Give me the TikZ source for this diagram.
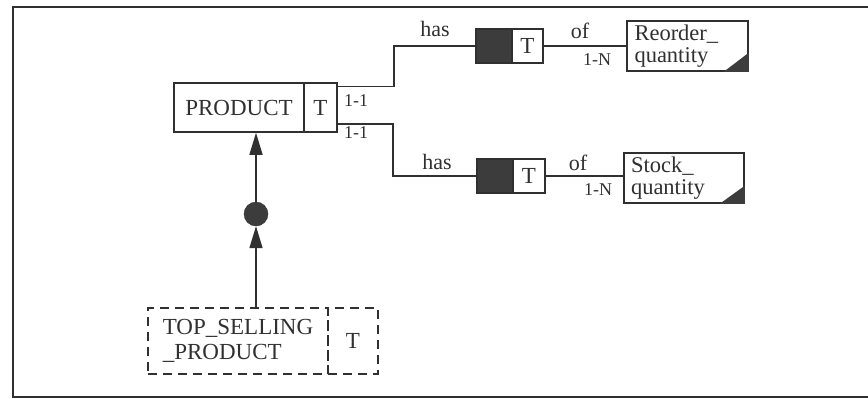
\documentclass[tikz,border=0pt]{standalone}
\usepackage{fontspec}
\setmainfont{Liberation Serif}
\usetikzlibrary{arrows.meta}

\definecolor{inkgray}{HTML}{303030}
\definecolor{fillgray}{HTML}{3C3C3C}

\tikzset{
  conn/.style={line width=1.5pt},
  ent/.style={draw=inkgray,line width=1.5pt,rectangle,inner sep=0pt,
    minimum height=49pt,font=\fontsize{23}{25}\selectfont},
  relbox/.style={draw=inkgray,line width=1.5pt,rectangle,inner sep=0pt,
    minimum height=34pt,font=\fontsize{23}{25}\selectfont},
  attr/.style={draw=inkgray,line width=1.5pt,rectangle,inner sep=0pt,
    minimum height=50pt,text width=106pt,align=left,
    font=\fontsize{22.5}{22}\selectfont},
  dashbox/.style={ent,dash pattern=on 9pt off 6pt,minimum height=66pt},
  lbl/.style={inner sep=0pt,font=\fontsize{22}{24}\selectfont},
  card/.style={inner sep=0pt,font=\fontsize{18}{20}\selectfont},
  isatip/.style={-{Triangle[length=22pt,width=13pt]}}
}

\begin{document}
\begin{tikzpicture}[x=1pt,y=-1pt,color=inkgray]
        \useasboundingbox (0,0) rectangle (868,399);
        % frame, open on the right
        \draw[line width=1.5pt] (868,7) -- (13,7) -- (13,397) -- (868,397);

        % entity PRODUCT
        \node[ent,minimum width=130pt] (prod) at (239,107.5) {PRODUCT};
        \node[ent,minimum width=33pt] (prodT) at (320.5,107.5) {T};

        % relationship boxes
        \node[relbox,fill=fillgray,minimum width=36pt] (relA) at (494,46) {};
        \node[relbox,minimum width=31pt] (relAT) at (527.5,46) {T};
        \node[relbox,fill=fillgray,minimum width=36pt] (relB) at (495,176) {};
        \node[relbox,minimum width=32pt] (relBT) at (529,176) {T};

        % attributes
        \node[attr,minimum width=121pt] (reorder) at (687.5,46) {Reorder\_\\quantity};
        \node[attr,minimum width=120pt] (stock) at (684,178) {Stock\_\\quantity};
        \fill[fillgray] ([xshift=-25pt]reorder.south east) -- (reorder.south east)
          -- ([yshift=19pt]reorder.south east) -- cycle;
        \fill[fillgray] ([xshift=-25pt]stock.south east) -- (stock.south east)
          -- ([yshift=18pt]stock.south east) -- cycle;

        % subtype TOP_SELLING_PRODUCT
        \node[dashbox,minimum width=180pt,align=left] (topsel) at (238,341) {TOP\_SELLING\\\_PRODUCT};
        \node[dashbox,minimum width=50pt] (topselT) at (353,341) {T};

        % isa point
        \node[circle,fill=fillgray,draw=inkgray,minimum size=24pt,inner sep=0pt] (isa) at (256,214) {};

        % connectors
        \draw[conn] ([yshift=-4pt]prodT.north east) -- ++(56,0) |- (relA.west);
        \draw[conn] ([yshift=9pt]prodT.south east) -- ++(55,0) |- (relB.west);
        \draw[conn] (relAT.east) -- (reorder.west |- relAT.east);
        \draw[conn] (relBT.east) -- (stock.west |- relBT.east);
        \draw[conn,isatip] (isa.north) -- (isa.north |- prod.south);
        \draw[conn,isatip] (isa.south |- topsel.north) -- (isa.south);

        % labels
        \node[lbl] (hasA) at (435,29) {has};
        \node[lbl] (hasB) at (437,162) {has};
        \node[lbl] (ofA) at (580,31) {of};
        \node[lbl] (ofB) at (578,163) {of};
        \node[card] (cardA) at (597,60) {1-N};
        \node[card] (cardB) at (598,190) {1-N};
        \node[card] (cardC) at (356,101) {1-1};
        \node[card] (cardD) at (356,133) {1-1};
      \end{tikzpicture}
\end{document}
